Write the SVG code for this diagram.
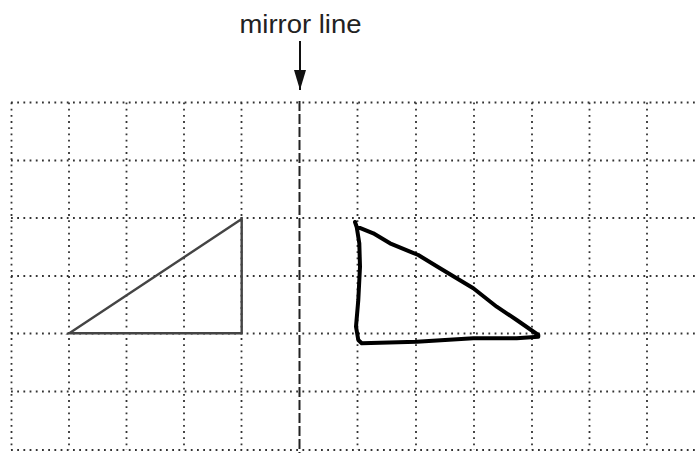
<svg xmlns="http://www.w3.org/2000/svg" width="697" height="453" viewBox="0 0 697 453">
<style>
.grid line{stroke:#333;stroke-width:1.8;stroke-dasharray:1.8 4.4;fill:none}
.mirror{stroke:#222;stroke-width:2;stroke-dasharray:10 3;fill:none}
.label{font-family:"Liberation Sans",Arial,sans-serif;font-size:26px;fill:#222}
.given{fill:none;stroke:#444;stroke-width:2.4;stroke-linejoin:miter}
.drawn{fill:none;stroke:#000;stroke-width:4;stroke-linejoin:round;stroke-linecap:round}
</style>
<defs>
<marker id="ah" viewBox="0 0 20 12" refX="20" refY="6" markerWidth="20" markerHeight="12" markerUnits="userSpaceOnUse" orient="auto">
<path d="M0,0 L20,6 L0,12 Z" fill="#111"/>
</marker>
</defs>
<rect width="697" height="453" fill="#fff"/>
<g id="grid" class="grid">
<line x1="11" y1="102.5" x2="697" y2="102.5"/>
<line x1="11" y1="160.5" x2="697" y2="160.5"/>
<line x1="11" y1="218" x2="697" y2="218"/>
<line x1="11" y1="276" x2="697" y2="276"/>
<line x1="11" y1="333.5" x2="697" y2="333.5"/>
<line x1="11" y1="391.5" x2="697" y2="391.5"/>
<line x1="11" y1="450" x2="697" y2="450"/>
<line x1="11.5" y1="102.5" x2="11.5" y2="450"/>
<line x1="69" y1="102.5" x2="69" y2="450"/>
<line x1="126.5" y1="102.5" x2="126.5" y2="450"/>
<line x1="184" y1="102.5" x2="184" y2="450"/>
<line x1="241.5" y1="102.5" x2="241.5" y2="450"/>
<line x1="357.5" y1="102.5" x2="357.5" y2="450"/>
<line x1="416" y1="102.5" x2="416" y2="450"/>
<line x1="474" y1="102.5" x2="474" y2="450"/>
<line x1="532" y1="102.5" x2="532" y2="450"/>
<line x1="589.5" y1="102.5" x2="589.5" y2="450"/>
<line x1="647" y1="102.5" x2="647" y2="450"/>
</g>
<g id="mirror-line">
<line class="mirror" x1="299.5" y1="101" x2="299.5" y2="453"/>
<text class="label" x="300.5" y="33" text-anchor="middle" textLength="122" lengthAdjust="spacingAndGlyphs">mirror line</text>
</g>
<g id="connectors">
<line x1="300" y1="41" x2="300" y2="90" stroke="#111" stroke-width="2" marker-end="url(#ah)"/>
</g>
<g id="given-triangle">
<path class="given" d="M69.3,333.3 L241.7,219 L241.7,333.3 Z"/>
</g>
<g id="drawn-triangle">
<path class="drawn" d="M355,222 L356.7,226.7 L373.3,233.3 L390,243.3 L410,251.7 L418.3,255 L440,268.3 L473.3,288.3 L496.7,306.7 L516.7,320 L538.3,335 L538.3,336.7 L516.7,338.3 L473.3,338.3 L416.7,341.7 L361.7,343.3 L358.3,340 L356,326.7 L358.3,300 L360,266.7 L359.3,243.3 L356.7,227 Z"/>
</g>
</svg>
